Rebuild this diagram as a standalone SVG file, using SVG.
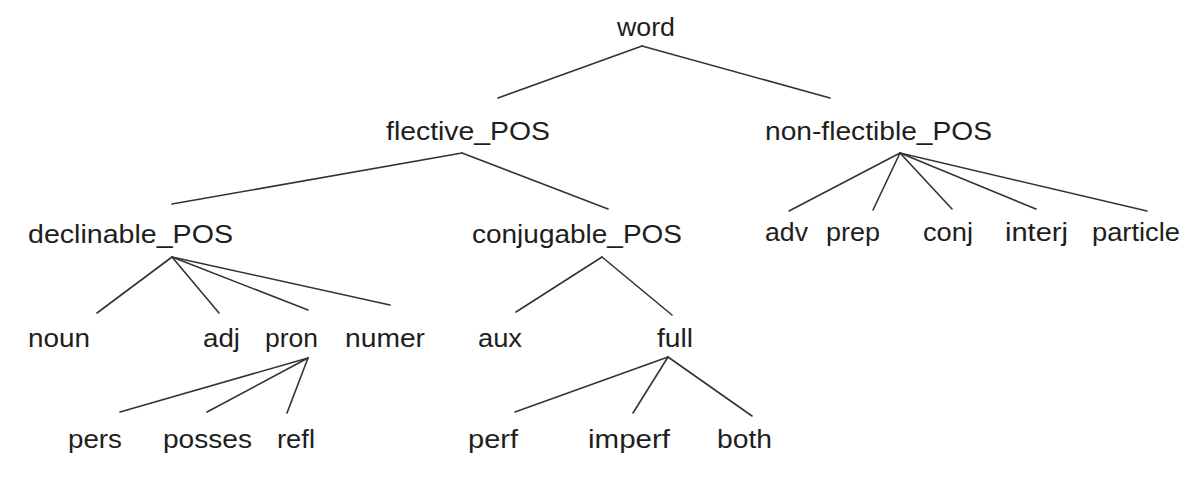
<svg xmlns="http://www.w3.org/2000/svg" width="1200" height="477" viewBox="0 0 1200 477">
<style>
text{font-family:"Liberation Sans",Arial,sans-serif;font-size:25px;fill:#1e1e1e}
.c line{stroke:#333;stroke-width:1.6;stroke-linecap:round}
</style>
<rect width="1200" height="477" fill="#fff"/>
<g class="c" id="connectors">
<line x1="642" y1="46" x2="498" y2="98"/>
<line x1="642" y1="46" x2="830" y2="98"/>
<line x1="462" y1="153" x2="172" y2="204"/>
<line x1="462" y1="153" x2="608" y2="209"/>
<line x1="900" y1="153" x2="789" y2="211"/>
<line x1="900" y1="153" x2="873" y2="210"/>
<line x1="900" y1="153" x2="952" y2="209"/>
<line x1="900" y1="153" x2="1036" y2="209"/>
<line x1="900" y1="153" x2="1147" y2="211"/>
<line x1="172" y1="257" x2="97" y2="313"/>
<line x1="172" y1="257" x2="219" y2="313"/>
<line x1="172" y1="257" x2="308" y2="310"/>
<line x1="172" y1="257" x2="390" y2="305"/>
<line x1="602" y1="257" x2="516" y2="312"/>
<line x1="602" y1="257" x2="672" y2="315"/>
<line x1="308" y1="358" x2="120" y2="412"/>
<line x1="308" y1="358" x2="207" y2="412"/>
<line x1="308" y1="358" x2="287" y2="413"/>
<line x1="668" y1="357" x2="515" y2="412"/>
<line x1="668" y1="357" x2="633" y2="413"/>
<line x1="668" y1="357" x2="752" y2="416"/>
</g>
<g id="n-word"><text x="617" y="36" textLength="58" lengthAdjust="spacingAndGlyphs">word</text></g>
<g id="n-flective"><text x="386" y="140" textLength="164" lengthAdjust="spacingAndGlyphs">flective_POS</text></g>
<g id="n-nonflectible"><text x="765" y="140" textLength="227" lengthAdjust="spacingAndGlyphs">non-flectible_POS</text></g>
<g id="n-declinable"><text x="28" y="243" textLength="205" lengthAdjust="spacingAndGlyphs">declinable_POS</text></g>
<g id="n-conjugable"><text x="472" y="243" textLength="210" lengthAdjust="spacingAndGlyphs">conjugable_POS</text></g>
<g id="n-adv"><text x="765" y="241" textLength="43" lengthAdjust="spacingAndGlyphs">adv</text></g>
<g id="n-prep"><text x="826" y="241" textLength="54" lengthAdjust="spacingAndGlyphs">prep</text></g>
<g id="n-conj"><text x="923" y="241" textLength="50" lengthAdjust="spacingAndGlyphs">conj</text></g>
<g id="n-interj"><text x="1005" y="241" textLength="63" lengthAdjust="spacingAndGlyphs">interj</text></g>
<g id="n-particle"><text x="1092" y="241" textLength="88" lengthAdjust="spacingAndGlyphs">particle</text></g>
<g id="n-noun"><text x="28" y="347" textLength="62" lengthAdjust="spacingAndGlyphs">noun</text></g>
<g id="n-adj"><text x="203" y="347" textLength="37" lengthAdjust="spacingAndGlyphs">adj</text></g>
<g id="n-pron"><text x="265" y="347" textLength="53" lengthAdjust="spacingAndGlyphs">pron</text></g>
<g id="n-numer"><text x="345" y="347" textLength="80" lengthAdjust="spacingAndGlyphs">numer</text></g>
<g id="n-aux"><text x="478" y="347" textLength="44" lengthAdjust="spacingAndGlyphs">aux</text></g>
<g id="n-full"><text x="657" y="347" textLength="36" lengthAdjust="spacingAndGlyphs">full</text></g>
<g id="n-pers"><text x="68" y="448" textLength="54" lengthAdjust="spacingAndGlyphs">pers</text></g>
<g id="n-posses"><text x="163" y="448" textLength="89" lengthAdjust="spacingAndGlyphs">posses</text></g>
<g id="n-refl"><text x="277" y="448" textLength="38" lengthAdjust="spacingAndGlyphs">refl</text></g>
<g id="n-perf"><text x="468" y="448" textLength="50" lengthAdjust="spacingAndGlyphs">perf</text></g>
<g id="n-imperf"><text x="588" y="448" textLength="82" lengthAdjust="spacingAndGlyphs">imperf</text></g>
<g id="n-both"><text x="717" y="448" textLength="55" lengthAdjust="spacingAndGlyphs">both</text></g>
</svg>
